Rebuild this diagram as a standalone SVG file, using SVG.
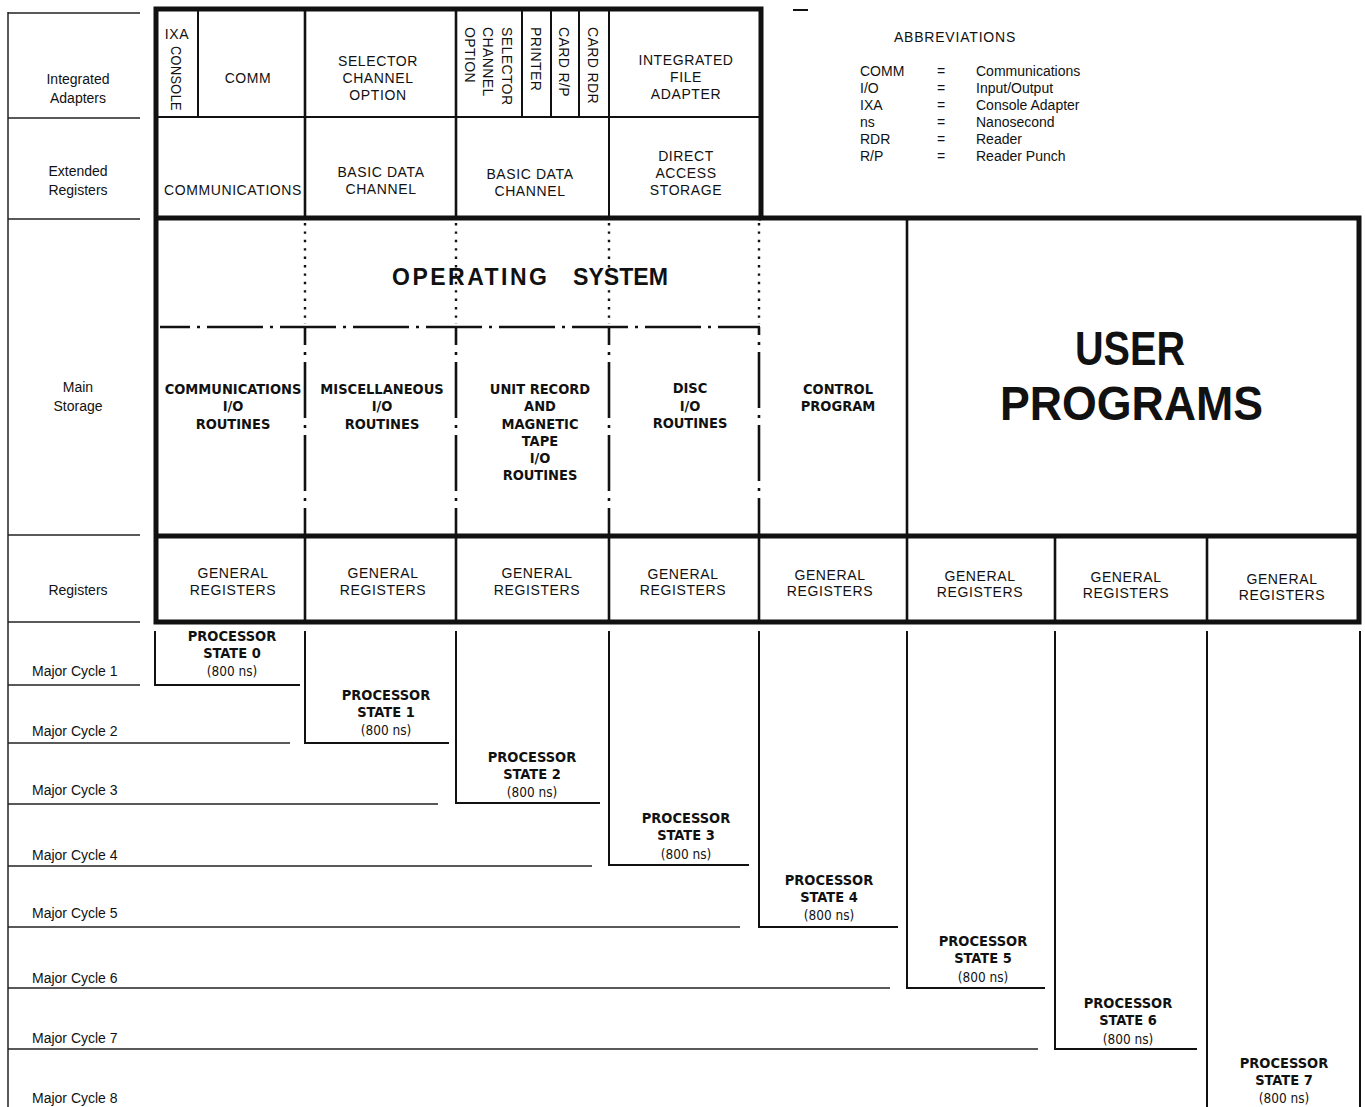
<svg xmlns="http://www.w3.org/2000/svg" width="1365" height="1107" viewBox="0 0 1365 1107">
<style>
text{fill:#111}
.lbl{font-family:"Liberation Sans",Arial,sans-serif;font-size:14px;text-anchor:middle}
.mc{font-family:"Liberation Sans",Arial,sans-serif;font-size:14px}
.box{font-family:"Liberation Sans",Arial,sans-serif;font-size:14px;letter-spacing:0.6px;text-anchor:middle}
.rot{font-family:"Liberation Sans",Arial,sans-serif;font-size:14px;letter-spacing:0.4px}
.bc{font-family:"DejaVu Sans Condensed","DejaVu Sans",sans-serif;font-stretch:condensed;font-weight:bold;font-size:14.5px;text-anchor:middle}
.ns{font-family:"DejaVu Sans Condensed","DejaVu Sans",sans-serif;font-stretch:condensed;font-size:13.5px;text-anchor:middle}
.abbr{font-family:"Liberation Sans",Arial,sans-serif;font-size:14px}
.big{font-family:"Liberation Sans",Arial,sans-serif;font-weight:bold}
.thick{stroke:#111;stroke-width:5;fill:none}
.med{stroke:#111;stroke-width:2.6;fill:none}
.thin{stroke:#111;stroke-width:2;fill:none}
.hair{stroke:#222;stroke-width:1.5;fill:none}
.dot{stroke:#111;stroke-width:2.4;stroke-dasharray:2.4 6;fill:none}
.dd{stroke:#111;stroke-width:2.6;stroke-dasharray:56 7 3 7;fill:none}
</style>

<g id="connectors">
  <line class="hair" x1="8" y1="12" x2="8" y2="1107"/>
  <line class="hair" x1="8" y1="13" x2="140" y2="13"/>
  <line class="hair" x1="8" y1="118" x2="140" y2="118"/>
  <line class="hair" x1="8" y1="219" x2="140" y2="219"/>
  <line class="hair" x1="8" y1="535" x2="140" y2="535"/>
  <line class="hair" x1="8" y1="622" x2="140" y2="622"/>
  <line class="hair" x1="8" y1="685" x2="140" y2="685"/>
  <line class="hair" x1="8" y1="743" x2="290" y2="743"/>
  <line class="hair" x1="8" y1="804" x2="438" y2="804"/>
  <line class="hair" x1="8" y1="866" x2="592" y2="866"/>
  <line class="hair" x1="8" y1="927" x2="740" y2="927"/>
  <line class="hair" x1="8" y1="988" x2="890" y2="988"/>
  <line class="hair" x1="8" y1="1049" x2="1038" y2="1049"/>
  <line class="thin" x1="793" y1="10" x2="808" y2="10"/>

  <path class="thick" d="M156,9 H761 V218 H1359 V622 H156 Z"/>
  <line class="thick" x1="156" y1="218" x2="761" y2="218"/>
  <line class="thick" x1="156" y1="536" x2="1359" y2="536"/>
  <line class="thin" x1="156" y1="117" x2="761" y2="117"/>
  <line class="thin" x1="198" y1="9" x2="198" y2="117"/>
  <line class="med" x1="305" y1="9" x2="305" y2="218"/>
  <line class="med" x1="456" y1="9" x2="456" y2="218"/>
  <line class="thin" x1="522" y1="9" x2="522" y2="117"/>
  <line class="thin" x1="551" y1="9" x2="551" y2="117"/>
  <line class="thin" x1="579" y1="9" x2="579" y2="117"/>
  <line class="thin" x1="609" y1="9" x2="609" y2="218"/>
  <line class="dot" x1="305" y1="223" x2="305" y2="324"/>
  <line class="dot" x1="456" y1="223" x2="456" y2="324"/>
  <line class="dot" x1="609" y1="223" x2="609" y2="324"/>
  <line class="dot" x1="759" y1="223" x2="759" y2="324"/>
  <line class="dd" x1="160" y1="327" x2="760" y2="327" stroke-dashoffset="26"/>
  <line class="dd" x1="305" y1="327" x2="305" y2="535" stroke-dashoffset="38"/>
  <line class="dd" x1="456" y1="327" x2="456" y2="535" stroke-dashoffset="38"/>
  <line class="dd" x1="609" y1="327" x2="609" y2="535" stroke-dashoffset="38"/>
  <line class="dd" x1="759" y1="327" x2="759" y2="535" stroke-dashoffset="48"/>
  <line class="med" x1="907" y1="218" x2="907" y2="536"/>
  <line class="med" x1="305" y1="536" x2="305" y2="622"/>
  <line class="med" x1="456" y1="536" x2="456" y2="622"/>
  <line class="med" x1="609" y1="536" x2="609" y2="622"/>
  <line class="med" x1="759" y1="536" x2="759" y2="622"/>
  <line class="med" x1="907" y1="536" x2="907" y2="622"/>
  <line class="med" x1="1055" y1="536" x2="1055" y2="622"/>
  <line class="med" x1="1207" y1="536" x2="1207" y2="622"/>
  <path class="thin" d="M155,631 V685 H300"/>
  <path class="thin" d="M305,631 V743 H449"/>
  <path class="thin" d="M456,631 V803 H600"/>
  <path class="thin" d="M609,631 V865 H749"/>
  <path class="thin" d="M759,631 V927 H898"/>
  <path class="thin" d="M907,631 V988 H1045"/>
  <path class="thin" d="M1055,631 V1049 H1197"/>
  <path class="thin" d="M1207,631 V1107"/>
  <path class="thin" d="M1360,631 V1107"/>
</g>

<g id="row-labels">
  <text class="lbl" x="78" y="84">Integrated</text>
  <text class="lbl" x="78" y="103">Adapters</text>
  <text class="lbl" x="78" y="176">Extended</text>
  <text class="lbl" x="78" y="195">Registers</text>
  <text class="lbl" x="78" y="392">Main</text>
  <text class="lbl" x="78" y="411">Storage</text>
  <text class="lbl" x="78" y="595">Registers</text>
  <text class="mc" x="32" y="676">Major Cycle 1</text>
  <text class="mc" x="32" y="736">Major Cycle 2</text>
  <text class="mc" x="32" y="795">Major Cycle 3</text>
  <text class="mc" x="32" y="860">Major Cycle 4</text>
  <text class="mc" x="32" y="918">Major Cycle 5</text>
  <text class="mc" x="32" y="983">Major Cycle 6</text>
  <text class="mc" x="32" y="1043">Major Cycle 7</text>
  <text class="mc" x="32" y="1103">Major Cycle 8</text>
</g>

<g id="abbreviations">
  <text class="abbr" x="955" y="42" text-anchor="middle" letter-spacing="0.8">ABBREVIATIONS</text>
  <text class="abbr" x="860" y="76">COMM</text><text class="abbr" x="941" y="76" text-anchor="middle">=</text><text class="abbr" x="976" y="76">Communications</text>
  <text class="abbr" x="860" y="93">I/O</text><text class="abbr" x="941" y="93" text-anchor="middle">=</text><text class="abbr" x="976" y="93">Input/Output</text>
  <text class="abbr" x="860" y="110">IXA</text><text class="abbr" x="941" y="110" text-anchor="middle">=</text><text class="abbr" x="976" y="110">Console Adapter</text>
  <text class="abbr" x="860" y="127">ns</text><text class="abbr" x="941" y="127" text-anchor="middle">=</text><text class="abbr" x="976" y="127">Nanosecond</text>
  <text class="abbr" x="860" y="144">RDR</text><text class="abbr" x="941" y="144" text-anchor="middle">=</text><text class="abbr" x="976" y="144">Reader</text>
  <text class="abbr" x="860" y="161">R/P</text><text class="abbr" x="941" y="161" text-anchor="middle">=</text><text class="abbr" x="976" y="161">Reader Punch</text>
</g>

<g id="ia-ixa-console">
  <text class="box" x="177" y="39">IXA</text>
  <text class="rot" transform="translate(171,46) rotate(90)" font-size="13.5" letter-spacing="0" textLength="65" lengthAdjust="spacingAndGlyphs">CONSOLE</text>
</g>
<g id="ia-comm"><text class="box" x="248" y="83">COMM</text></g>
<g id="ia-selector">
  <text class="box" x="378" y="66">SELECTOR</text>
  <text class="box" x="378" y="83">CHANNEL</text>
  <text class="box" x="378" y="100">OPTION</text>
</g>
<g id="ia-selector-vertical">
  <text class="rot" transform="translate(502,27) rotate(90)">SELECTOR</text>
  <text class="rot" transform="translate(483,27) rotate(90)">CHANNEL</text>
  <text class="rot" transform="translate(465,27) rotate(90)">OPTION</text>
</g>
<g id="ia-printer"><text class="rot" transform="translate(531,27) rotate(90)">PRINTER</text></g>
<g id="ia-card-rp"><text class="rot" transform="translate(559,27) rotate(90)">CARD R/P</text></g>
<g id="ia-card-rdr"><text class="rot" transform="translate(588,27) rotate(90)">CARD RDR</text></g>
<g id="ia-file-adapter">
  <text class="box" x="686" y="65">INTEGRATED</text>
  <text class="box" x="686" y="82">FILE</text>
  <text class="box" x="686" y="99">ADAPTER</text>
</g>

<g id="er-communications"><text class="box" x="233" y="195" letter-spacing="0.3">COMMUNICATIONS</text></g>
<g id="er-bdc-1">
  <text class="box" x="381" y="177">BASIC DATA</text>
  <text class="box" x="381" y="194">CHANNEL</text>
</g>
<g id="er-bdc-2">
  <text class="box" x="530" y="179">BASIC DATA</text>
  <text class="box" x="530" y="196">CHANNEL</text>
</g>
<g id="er-das">
  <text class="box" x="686" y="161">DIRECT</text>
  <text class="box" x="686" y="178">ACCESS</text>
  <text class="box" x="686" y="195">STORAGE</text>
</g>

<g id="ms-operating-system">
  <text class="big" x="392" y="285" font-size="23" textLength="155" lengthAdjust="spacing">OPERATING</text>
  <text class="big" x="573" y="285" font-size="23" textLength="95" lengthAdjust="spacingAndGlyphs">SYSTEM</text>
</g>
<g id="ms-comm-io">
  <text class="bc" x="233" y="394">COMMUNICATIONS</text>
  <text class="bc" x="233" y="411">I/O</text>
  <text class="bc" x="233" y="429">ROUTINES</text>
</g>
<g id="ms-misc-io">
  <text class="bc" x="382" y="394">MISCELLANEOUS</text>
  <text class="bc" x="382" y="411">I/O</text>
  <text class="bc" x="382" y="429">ROUTINES</text>
</g>
<g id="ms-unit-record">
  <text class="bc" x="540" y="394">UNIT RECORD</text>
  <text class="bc" x="540" y="411">AND</text>
  <text class="bc" x="540" y="429">MAGNETIC</text>
  <text class="bc" x="540" y="446">TAPE</text>
  <text class="bc" x="540" y="463">I/O</text>
  <text class="bc" x="540" y="480">ROUTINES</text>
</g>
<g id="ms-disc-io">
  <text class="bc" x="690" y="393">DISC</text>
  <text class="bc" x="690" y="411">I/O</text>
  <text class="bc" x="690" y="428">ROUTINES</text>
</g>
<g id="ms-control-program">
  <text class="bc" x="838" y="394">CONTROL</text>
  <text class="bc" x="838" y="411">PROGRAM</text>
</g>
<g id="ms-user-programs">
  <text class="big" x="1075" y="365" font-size="48" textLength="110" lengthAdjust="spacingAndGlyphs">USER</text>
  <text class="big" x="1000" y="420" font-size="48" textLength="263" lengthAdjust="spacingAndGlyphs">PROGRAMS</text>
</g>

<g id="reg-0"><text class="box" x="233" y="578">GENERAL</text><text class="box" x="233" y="595">REGISTERS</text></g>
<g id="reg-1"><text class="box" x="383" y="578">GENERAL</text><text class="box" x="383" y="595">REGISTERS</text></g>
<g id="reg-2"><text class="box" x="537" y="578">GENERAL</text><text class="box" x="537" y="595">REGISTERS</text></g>
<g id="reg-3"><text class="box" x="683" y="579">GENERAL</text><text class="box" x="683" y="595">REGISTERS</text></g>
<g id="reg-4"><text class="box" x="830" y="580">GENERAL</text><text class="box" x="830" y="596">REGISTERS</text></g>
<g id="reg-5"><text class="box" x="980" y="581">GENERAL</text><text class="box" x="980" y="597">REGISTERS</text></g>
<g id="reg-6"><text class="box" x="1126" y="582">GENERAL</text><text class="box" x="1126" y="598">REGISTERS</text></g>
<g id="reg-7"><text class="box" x="1282" y="584">GENERAL</text><text class="box" x="1282" y="600">REGISTERS</text></g>

<g id="ps-0"><text class="bc" x="232" y="641">PROCESSOR</text><text class="bc" x="232" y="658">STATE 0</text><text class="ns" x="232" y="676">(800 ns)</text></g>
<g id="ps-1"><text class="bc" x="386" y="700">PROCESSOR</text><text class="bc" x="386" y="717">STATE 1</text><text class="ns" x="386" y="735">(800 ns)</text></g>
<g id="ps-2"><text class="bc" x="532" y="762">PROCESSOR</text><text class="bc" x="532" y="779">STATE 2</text><text class="ns" x="532" y="797">(800 ns)</text></g>
<g id="ps-3"><text class="bc" x="686" y="823">PROCESSOR</text><text class="bc" x="686" y="840">STATE 3</text><text class="ns" x="686" y="859">(800 ns)</text></g>
<g id="ps-4"><text class="bc" x="829" y="885">PROCESSOR</text><text class="bc" x="829" y="902">STATE 4</text><text class="ns" x="829" y="920">(800 ns)</text></g>
<g id="ps-5"><text class="bc" x="983" y="946">PROCESSOR</text><text class="bc" x="983" y="963">STATE 5</text><text class="ns" x="983" y="982">(800 ns)</text></g>
<g id="ps-6"><text class="bc" x="1128" y="1008">PROCESSOR</text><text class="bc" x="1128" y="1025">STATE 6</text><text class="ns" x="1128" y="1044">(800 ns)</text></g>
<g id="ps-7"><text class="bc" x="1284" y="1068">PROCESSOR</text><text class="bc" x="1284" y="1085">STATE 7</text><text class="ns" x="1284" y="1103">(800 ns)</text></g>
</svg>
